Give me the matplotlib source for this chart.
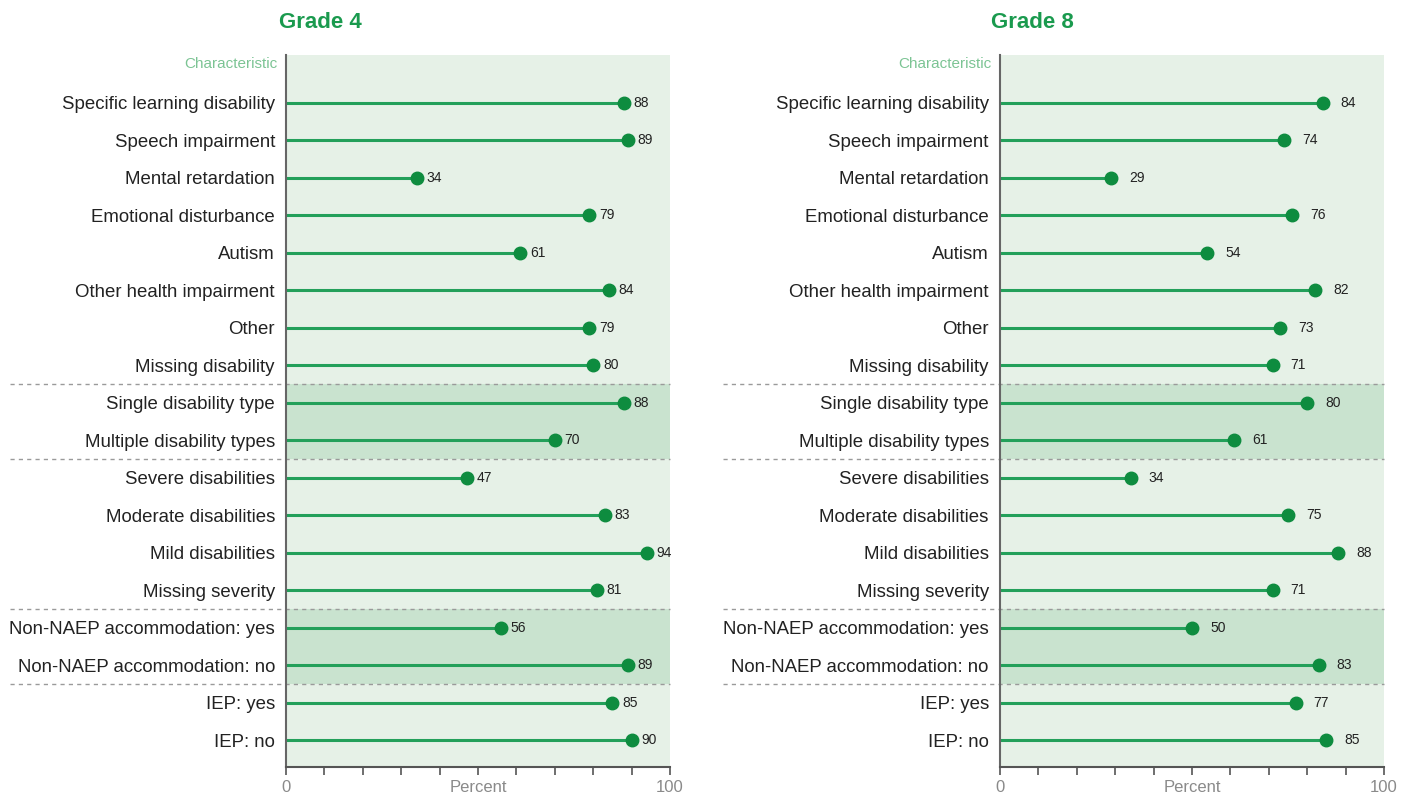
import matplotlib.pyplot as plt
import matplotlib.transforms as mtransforms

categories = ["Specific learning disability", "Speech impairment", "Mental retardation",
              "Emotional disturbance", "Autism", "Other health impairment", "Other",
              "Missing disability", "Single disability type", "Multiple disability types",
              "Severe disabilities", "Moderate disabilities", "Mild disabilities",
              "Missing severity", "Non-NAEP accommodation: yes", "Non-NAEP accommodation: no",
              "IEP: yes", "IEP: no"]
grade4 = [88, 89, 34, 79, 61, 84, 79, 80, 88, 70, 47, 83, 94, 81, 56, 89, 85, 90]
grade8 = [84, 74, 29, 76, 54, 82, 73, 71, 80, 61, 34, 75, 88, 71, 50, 83, 77, 85]
panel_titles = ["Grade 4", "Grade 8"]

# row groups: (first, last) index, darker band or not
groups = [(0, 7, False), (8, 9, True), (10, 13, False), (14, 15, True), (16, 17, False)]

plt.rcParams['font.family'] = ['Liberation Sans', 'DejaVu Sans']

GREEN = '#1a9a4e'
LINE = '#23a05a'
LIGHT_BG = '#e6f1e7'
DARK_BG = '#c9e3cf'

fig = plt.figure(figsize=(14.14, 7.96), dpi=100)

panels = [(0.2023, grade4, 0.2263, 3), (0.7072, grade8, 0.7298, 9)]
for (x0, vals, title_x, off), title in zip(panels, panel_titles):
    ax = fig.add_axes([x0, 0.0364, 0.2716, 0.8945])
    n = len(categories)
    ax.set_xlim(0, 100)
    ax.set_ylim(17.72, -1.28)
    ax.set_facecolor(LIGHT_BG)

    trans = mtransforms.blended_transform_factory(ax.transAxes, ax.transData)
    for i, (a, b, dark) in enumerate(groups):
        if dark:
            ax.axhspan(a - 0.5, b + 0.5, color=DARK_BG, lw=0, zorder=0)
        if i > 0:
            ax.plot([-0.72, 1.0], [a - 0.5, a - 0.5], transform=trans, clip_on=False,
                    color='#9a9a9a', lw=1.0, ls=(0, (3, 3)), zorder=1)

    for i, v in enumerate(vals):
        ax.plot([0, v], [i, i], color=LINE, lw=2.2, zorder=2, solid_capstyle='butt')
        ax.plot([v], [i], 'o', color='#0e8c3f', ms=9, zorder=3)
        ax.annotate(str(v), (v, i), xytext=(off + 4, 0), textcoords='offset points',
                    va='center', ha='left', fontsize=10, color='#222222')

    ax.set_yticks(range(n))
    ax.set_yticklabels(categories, fontsize=13.4, color='#222222')
    ax.tick_params(axis='y', length=0, pad=8)
    ax.text(-0.023, -1.03, 'Characteristic', transform=trans, ha='right', va='center',
            fontsize=11, color='#7cc494')

    ax.set_xticks(range(0, 101, 10))
    ax.set_xticklabels(['0', '', '', '', '', 'Percent', '', '', '', '', '100'])
    ax.tick_params(axis='x', direction='out', length=6, width=1.2, color='#555555',
                   labelsize=12, labelcolor='#8a8a8a', pad=3)
    for s in ['top', 'right']:
        ax.spines[s].set_visible(False)
    ax.spines['left'].set_color('#666666')
    ax.spines['left'].set_linewidth(1.5)
    ax.spines['bottom'].set_color('#555555')
    ax.spines['bottom'].set_linewidth(1.5)

    fig.text(title_x, 0.972, title, ha='center', va='center', fontsize=16,
             fontweight='bold', color=GREEN)

fig.savefig('out.png', dpi=100)
